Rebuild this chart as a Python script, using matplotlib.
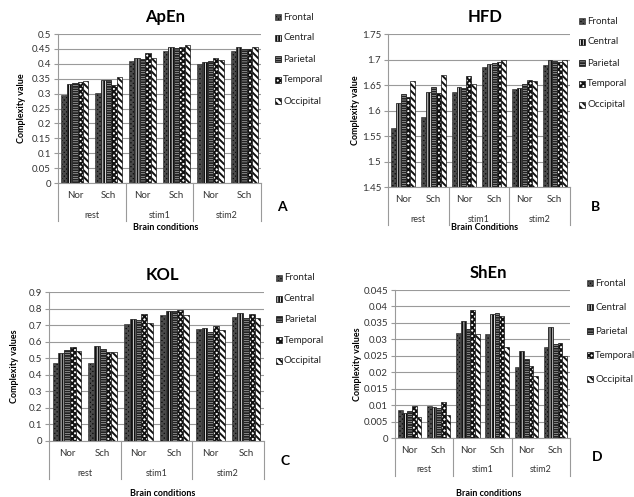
import matplotlib
matplotlib.use("Agg")
import matplotlib.pyplot as plt
import numpy as np

plt.rcParams['font.family'] = ['Lato', 'DejaVu Sans']
plt.rcParams['hatch.linewidth'] = 1.4

regions = ["Frontal", "Central", "Parietal", "Temporal", "Occipital"]
subjects = ["Nor", "Sch"]
conditions = ["rest", "stim1", "stim2"]

# values per category (rest-Nor, rest-Sch, stim1-Nor, stim1-Sch, stim2-Nor, stim2-Sch), per region
apen_frontal = [0.295, 0.303, 0.410, 0.443, 0.400, 0.443]
apen_central = [0.333, 0.345, 0.418, 0.455, 0.405, 0.457]
apen_parietal = [0.335, 0.345, 0.415, 0.452, 0.410, 0.450]
apen_temporal = [0.338, 0.330, 0.435, 0.455, 0.420, 0.448]
apen_occipital = [0.342, 0.355, 0.420, 0.462, 0.412, 0.455]

hfd_frontal = [1.565, 1.588, 1.637, 1.685, 1.642, 1.689]
hfd_central = [1.615, 1.636, 1.647, 1.692, 1.645, 1.699]
hfd_parietal = [1.633, 1.647, 1.645, 1.693, 1.652, 1.697]
hfd_temporal = [1.627, 1.635, 1.667, 1.695, 1.660, 1.695]
hfd_occipital = [1.657, 1.670, 1.652, 1.699, 1.658, 1.700]

kol_frontal = [0.470, 0.470, 0.705, 0.760, 0.675, 0.750]
kol_central = [0.530, 0.575, 0.735, 0.785, 0.685, 0.775]
kol_parietal = [0.550, 0.555, 0.730, 0.785, 0.660, 0.745]
kol_temporal = [0.565, 0.540, 0.765, 0.790, 0.695, 0.765]
kol_occipital = [0.545, 0.535, 0.710, 0.760, 0.670, 0.740]

shen_frontal = [0.0085, 0.0098, 0.0320, 0.0315, 0.0215, 0.0278]
shen_central = [0.0075, 0.0095, 0.0355, 0.0377, 0.0265, 0.0338]
shen_parietal = [0.0082, 0.0090, 0.0330, 0.0380, 0.0240, 0.0285]
shen_temporal = [0.0098, 0.0110, 0.0390, 0.0370, 0.0220, 0.0288]
shen_occipital = [0.0065, 0.0070, 0.0315, 0.0277, 0.0190, 0.0250]

W, H = 634, 497
fig = plt.figure(figsize=(W / 100, H / 100), dpi=100)

def px_axes(l, t, r, b):
    return fig.add_axes([l / W, 1 - b / H, (r - l) / W, (b - t) / H])

styles = [
    dict(facecolor='#0d0d0d', edgecolor='#4a4a4a', hatch='xxxxxxx', linewidth=0.4),
    dict(facecolor='white', edgecolor='#111111', hatch='||||||', linewidth=0.5),
    dict(facecolor='white', edgecolor='#222222', hatch='-------', linewidth=0.6),
    dict(facecolor='white', edgecolor='#111111', hatch='xxxxxx', linewidth=0.5),
    dict(facecolor='white', edgecolor='#111111', hatch='\\\\\\\\\\', linewidth=0.5),
]

def panel(box, series, ylim, yticks, yfmt, title, ylabel, xlabel, letter,
          ylab_x, legend_x, legend_y, legend_gap, letter_pos, xlabel_y):
    l, t, r, b = box
    ax = px_axes(l, t, r, b)
    ncat = 6
    x = np.arange(ncat)
    bw = 0.8 / 5
    for i, vals in enumerate(series):
        ax.bar(x - 0.4 + bw * (i + 0.5), vals, width=bw, **styles[i])
    ax.set_xlim(-0.5, ncat - 0.5)
    ax.set_ylim(*ylim)
    ax.set_yticks(yticks)
    ax.set_yticklabels([yfmt(v) for v in yticks], fontsize=7, color='#333333')
    ax.yaxis.grid(True, color='#9a9a9a', linewidth=0.8)
    ax.set_axisbelow(True)
    for s in ['top', 'right']:
        ax.spines[s].set_visible(False)
    for s in ['left', 'bottom']:
        ax.spines[s].set_color('#9a9a9a')
        ax.spines[s].set_linewidth(0.8)
    ax.tick_params(axis='y', length=3, width=0.8, color='#9a9a9a', pad=2)
    ax.set_xticks(x)
    ax.set_xticklabels(subjects * 3, fontsize=7, color='#333333')
    ax.tick_params(axis='x', length=0, pad=6)
    hpx = b - t
    for gi, cond in enumerate(conditions):
        ax.text(2 * gi + 0.5, -32 / hpx, cond, transform=ax.get_xaxis_transform(),
                ha='center', va='center', fontsize=6.5, color='#333333')
    for xs in [-0.5, 1.5, 3.5, 5.5]:
        ax.plot([xs, xs], [0, -38 / hpx], transform=ax.get_xaxis_transform(),
                color='#9a9a9a', linewidth=0.8, clip_on=False)
    fig.text(((l + r) / 2 + 6) / W, 1 - (t - 17) / H, title, ha='center', va='center',
             fontsize=12, fontweight='bold')
    fig.text(ylab_x / W, 1 - ((t + b) / 2) / H, ylabel, rotation=90, ha='center',
             va='center', fontsize=6.5, fontweight='bold')
    fig.text(((l + r) / 2 + 6) / W, 1 - xlabel_y / H, xlabel, ha='center', va='center',
             fontsize=6.5, fontweight='bold')
    fig.text(letter_pos[0] / W, 1 - letter_pos[1] / H, letter, ha='center', va='center',
             fontsize=10, fontweight='bold')
    for i, reg in enumerate(regions):
        y = legend_y + i * legend_gap
        fig.patches.append(plt.Rectangle((legend_x / W, 1 - (y + 3) / H), 6 / W, 6 / H,
                                         transform=fig.transFigure, figure=fig,
                                         **styles[i]))
        fig.text((legend_x + 8) / W, 1 - y / H, reg, ha='left', va='center',
                 fontsize=7, color='#222222')
    return ax

panel((58, 34, 261, 183),
      [apen_frontal, apen_central, apen_parietal, apen_temporal, apen_occipital],
      (0, 0.5), np.round(np.arange(0, 0.501, 0.05), 2), lambda v: f"{v:g}",
      "ApEn", "Complexity value", "Brain conditions", "A",
      21, 275, 17, 21, (282, 207), 228)

panel((388, 34, 570, 187),
      [hfd_frontal, hfd_central, hfd_parietal, hfd_temporal, hfd_occipital],
      (1.45, 1.75), np.round(np.arange(1.45, 1.7501, 0.05), 2), lambda v: f"{v:g}",
      "HFD", "Complexity value", "Brain Conditions", "B",
      356, 579, 21, 21, (595, 207), 228)

panel((49, 292, 264, 441),
      [kol_frontal, kol_central, kol_parietal, kol_temporal, kol_occipital],
      (0, 0.9), np.round(np.arange(0, 0.901, 0.1), 1), lambda v: f"{v:g}",
      "KOL", "Complexity values", "Brain conditions", "C",
      15, 276, 278, 20.7, (285, 461), 493)

panel((395, 290, 570, 438),
      [shen_frontal, shen_central, shen_parietal, shen_temporal, shen_occipital],
      (0, 0.045), np.round(np.arange(0, 0.04501, 0.005), 3), lambda v: f"{v:g}",
      "ShEn", "Complexity values", "Brain conditions", "D",
      357, 587, 283, 24, (597, 457), 493)

fig.savefig("out.png", dpi=100)
